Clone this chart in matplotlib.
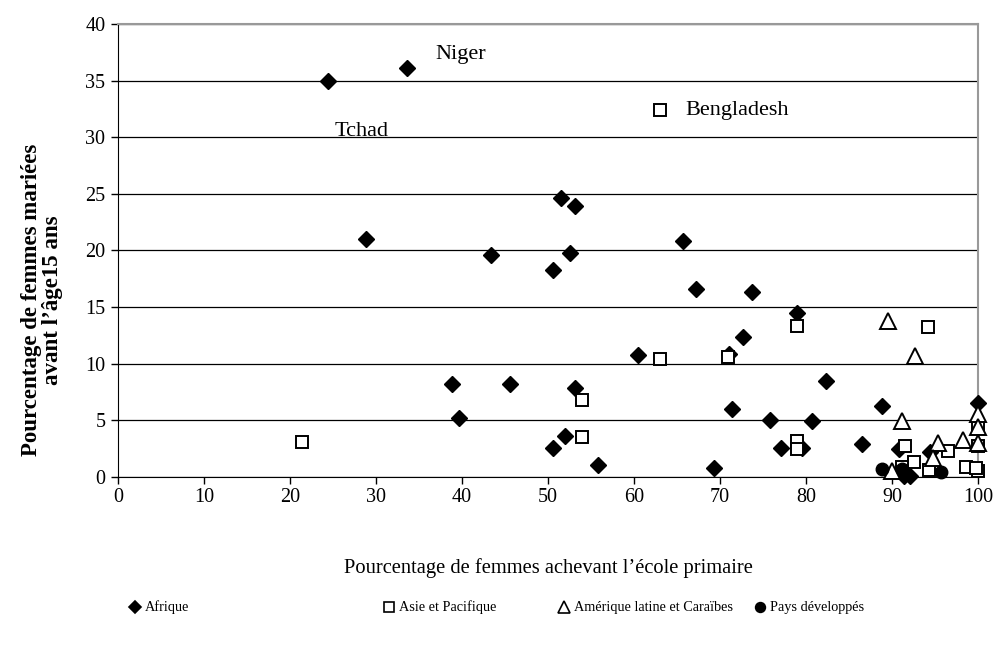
import matplotlib.pyplot as plt
from matplotlib.lines import Line2D

plt.rcParams['font.family'] = ['Liberation Serif', 'DejaVu Serif']

# Afrique (diamants)
afr_x = [24.4, 33.6, 28.8, 43.4, 38.8, 39.7, 45.6, 51.5, 53.1, 50.6, 52.6, 53.1,
         60.5, 52.0, 50.6, 55.8, 65.7, 67.2, 73.7, 79.0, 72.7, 82.3, 71.4, 75.8,
         80.7, 77.1, 79.5, 69.3, 88.8, 100.0, 86.5, 90.8, 94.4, 91.4, 92.1, 71.1]
afr_y = [35.0, 36.1, 21.0, 19.6, 8.2, 5.2, 8.2, 24.6, 23.9, 18.3, 19.8, 7.9,
         10.8, 3.6, 2.6, 1.1, 20.8, 16.6, 16.3, 14.5, 12.4, 8.5, 6.0, 5.0,
         4.9, 2.6, 2.6, 0.8, 6.3, 6.5, 2.9, 2.5, 2.2, 0.1, 0.1, 10.9]

# Asie et Pacifique (carrés)
asi_x = [21.4, 63.0, 63.0, 53.9, 53.9, 70.9, 79.0, 79.0, 79.0, 94.2, 91.5, 96.5,
         92.6, 91.2, 94.3, 98.6, 100.0, 100.0, 100.0, 99.8]
asi_y = [3.1, 32.4, 10.4, 6.8, 3.5, 10.6, 13.3, 3.2, 2.5, 13.2, 2.7, 2.3,
         1.3, 0.9, 0.6, 0.9, 0.5, 4.4, 2.7, 0.8]

# Amérique latine et Caraïbes (triangles)
ame_x = [89.5, 92.7, 91.2, 100.0, 100.0, 95.3, 98.3, 100.0, 94.8, 90.0]
ame_y = [13.8, 10.7, 4.9, 5.6, 4.4, 3.0, 3.3, 3.0, 1.7, 0.5]

# Pays développés (cercles)
dev_x = [88.8, 91.2, 95.7]
dev_y = [0.7, 0.7, 0.4]

fig = plt.figure(figsize=(9.94, 6.45), dpi=100)
ax = fig.add_axes([0.1187, 0.2605, 0.8652, 0.7023])

ax.plot(afr_x, afr_y, 'D', ms=8.3, color='black', ls='none', zorder=3, clip_on=False)
ax.plot(asi_x, asi_y, 's', ms=9, mfc='white', mec='black', mew=1.4, ls='none',
        zorder=4, clip_on=False)
ax.plot(ame_x, ame_y, '^', ms=11, mfc='white', mec='black', mew=1.4, ls='none',
        zorder=5, clip_on=False)
ax.plot(dev_x, dev_y, 'o', ms=9, color='black', ls='none', zorder=6, clip_on=False)

ax.set_xlim(0, 100)
ax.set_ylim(0, 40)
ax.set_xticks(range(0, 101, 10))
ax.set_yticks(range(0, 41, 5))
ax.yaxis.grid(True, color='black', lw=0.9)
ax.set_axisbelow(True)
ax.tick_params(labelsize=14.5, length=5, width=1, direction='out')
ax.tick_params(axis='x', pad=3)
ax.tick_params(axis='y', pad=4)
ax.spines['top'].set_color('#999999')
ax.spines['right'].set_color('#999999')
ax.spines['top'].set_linewidth(1.5)
ax.spines['right'].set_linewidth(1.5)

ax.text(36.9, 37.3, 'Niger', fontsize=16, ha='left', va='center')
ax.text(25.2, 30.5, 'Tchad', fontsize=16, ha='left', va='center')
ax.text(66.0, 32.4, 'Bengladesh', fontsize=16, ha='left', va='center')

fig.text(0.5 * (118 + 978) / 994, 1 - 568 / 645,
         "Pourcentage de femmes achevant l\u2019école primaire",
         fontsize=14.8, ha='center', va='center')
fig.text(42 / 994, 1 - 300 / 645,
         "Pourcentage de femmes mariées\navant l\u2019âge15 ans",
         fontsize=16.5, fontweight='bold', rotation=90, ha='center', va='center',
         linespacing=1.05)

# légende
leg_y = 1 - 607 / 645
items = [
    (135, 'D', 'black', 'black', 6, 'Afrique'),
    (389, 's', 'white', 'black', 7, 'Asie et Pacifique'),
    (564, '^', 'white', 'black', 8, 'Amérique latine et Caraïbes'),
    (760, 'o', 'black', 'black', 7, 'Pays développés'),
]
for px, mk, fc, ec, ms, lab in items:
    fig.add_artist(Line2D([px / 994], [leg_y], marker=mk, ms=ms, mfc=fc, mec=ec,
                          mew=1.2, ls='none', transform=fig.transFigure))
    fig.text((px + 10) / 994, leg_y, lab, fontsize=10.3, ha='left', va='center')

fig.savefig('out.png', dpi=100)
